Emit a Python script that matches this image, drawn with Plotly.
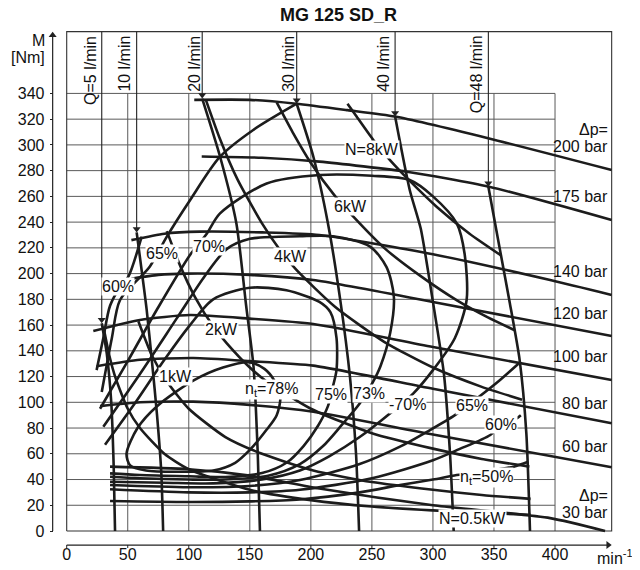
import plotly.graph_objects as go

FONT = "Liberation Sans, Arial, Helvetica, sans-serif"
INK = "#1c1c1c"

# ---------------- axes / frame ----------------
X_TICKS = [0, 50, 100, 150, 200, 250, 300, 350, 400]
Y_TICKS = [0, 20, 40, 60, 80, 100, 120, 140, 160, 180, 200, 220, 240, 260, 280, 300, 320, 340]
FRAME_N = 446.4      # right border of the diagram frame [min^-1]
FRAME_M = 388        # top border of the diagram frame [Nm]
Y_AXIS_AT = -11.5    # speed value where the separate M axis is drawn
X_AXIS_AT = -10.9    # torque value where the separate n axis is drawn

# ---------------- pressure lines  Δp ----------------
P200_N = [104.5, 150, 188, 230, 269, 346, 446.4]
P200_M = [335, 335, 332, 327, 322, 305, 280.5]
P175_N = [110.6, 160, 207, 280, 346, 446.4]
P175_M = [291, 290, 287, 279, 267.5, 241.6]
P140_N = [53, 80, 109, 160, 207, 300, 396, 446.4]
P140_M = [226, 231, 232.6, 232, 230, 215, 195, 183.4]
P120_N = [53, 75, 98, 150, 202, 300, 446.4]
P120_M = [196, 199, 200, 199, 195, 178, 151.5]
P100_N = [21.8, 60, 101, 150, 202, 300, 446.4]
P100_M = [155.4, 164, 167.8, 165, 160.8, 143, 117.3]
P80_N = [24.5, 60, 103.7, 150, 202, 300, 446.4]
P80_M = [128, 133, 134.4, 132, 128.5, 110.5, 83.7]
P60_N = [27.3, 60, 103.6, 150, 202, 300, 446.4]
P60_M = [97, 100, 100.5, 98, 92.7, 75, 49.5]
P30_N = [35.5, 100, 150, 207, 300, 396, 441]
P30_M = [50, 48, 43, 33, 20, 10, 0]

P_LABELS = ["Δp=", "200 bar", "175 bar", "140 bar", "120 bar", "100 bar", "80 bar", "60 bar", "Δp=", "30 bar"]
P_LABEL_M = [311.6, 298.4, 260, 201.5, 169, 135.4, 99.2, 65.5, 27.2, 14.6]

# ---------------- flow lines Q ----------------
Q5_N = [28.7, 32.8, 36.5, 38.5, 39.6]
Q5_M = [161.4, 138, 100, 50, 0]
Q10_N = [57.3, 65.5, 70, 74, 77.5, 79]
Q10_M = [232, 172, 130, 90, 45, 0]
Q20_N = [111, 125.6, 139, 147, 153, 156.5, 158.3]
Q20_M = [336, 291, 239, 175, 128, 60, 0]
Q30_N = [188.4, 202, 214, 224, 232, 237, 239.5]
Q30_M = [332, 291, 239, 180, 120, 60, 0]
Q40_N = [269, 281, 290, 300, 309, 314, 317]
Q40_M = [322, 265, 235, 178, 122, 60, 0]
Q48_N = [345.4, 355, 363, 371, 376.5, 379.5]
Q48_M = [267.5, 218, 177, 133, 76, 0]

Q_LABELS = ["Q=5 l/min", "10 l/min", "20 l/min", "30 l/min", "40 l/min", "Q=48 l/min"]
Q_LABEL_N = [19, 47.8, 104.5, 181.5, 259.3, 335.8]

# ---------------- power lines N ----------------
N8_N = [230, 236, 251, 265, 280, 303, 330, 356]
N8_M = [332, 324, 304, 288, 273, 252, 231, 214]
N6_N = [172, 185, 200, 220, 235, 260, 290, 320, 345, 367]
N6_M = [333, 310, 286, 260, 244, 220, 198, 179, 166, 156]
N4_N = [114, 125, 140, 160, 175, 188, 220, 260, 300, 340, 373]
N4_M = [335, 306, 273, 239, 218, 203, 174, 147, 127, 112, 102]
N2_N = [82, 93, 105, 120, 131, 150, 164, 200, 250, 300, 340, 379]
N2_M = [233, 206, 182, 159, 146, 127, 116, 95, 76, 64, 56, 50]
N1_N = [58.7, 70, 83, 100, 130, 160, 202, 250, 300, 340, 380]
N1_M = [163, 136, 115, 95, 73, 60, 47, 38, 32, 28, 25]
N05_N = [30, 35, 40, 50, 60, 80, 100, 150, 200, 250, 300, 340, 380]
N05_M = [159, 136, 119, 95, 80, 60, 48, 32, 24, 19, 16, 14, 12.6]

# ---------------- efficiency lines n_t ----------------
E78_N = [49, 58, 74, 104, 128, 150, 162, 170, 175, 172, 164, 150, 138, 120, 90, 65, 52, 49]
E78_M = [60, 80, 97, 117, 127, 131, 126, 117, 104, 90, 79, 63, 53, 47, 46, 47, 51, 60]
E75_N = [31.4, 55, 80, 101, 120, 150, 180, 207, 216, 221, 221, 218, 214, 206, 194, 180, 160, 130, 100, 60, 35.5]
E75_M = [67, 98, 133, 160, 180, 189, 187, 178, 170, 150, 125, 112, 97, 82, 66, 53, 45, 42, 42.5, 43.5, 44.8]
E73_N = [30, 60, 90, 113, 131, 150, 191, 218, 248.5, 262, 268, 265, 257, 251, 240, 225, 210, 191, 165, 130, 100, 60, 35.5]
E73_M = [81, 122, 165, 198, 219, 227, 229, 229, 221, 205, 182, 154, 128, 116, 99, 82, 66, 52, 43, 40, 40, 41, 42.2]
E70_N = [27.3, 50, 73.7, 101, 114.7, 125.6, 163.8, 207.5, 250, 281, 300, 319.5, 326, 327.6, 318, 300, 284, 265, 240, 215, 191, 160, 120, 80, 35.5]
E70_M = [95, 132, 171.7, 214.5, 231, 246.8, 270, 276.6, 276, 272.7, 260, 239, 215, 179.5, 150, 125, 107, 91.5, 73, 58, 47, 40, 37, 37.5, 38.3]
E65A_N = [28.7, 37, 43.7, 68, 82, 101, 125.6, 152.8, 188.4]
E65A_M = [108, 150, 179.5, 205.4, 228.7, 257, 290.8, 311.6, 332]
E65B_N = [370, 352, 336, 318, 295, 273, 240, 191, 150, 100, 35.5]
E65B_M = [130, 115, 103, 90, 77, 65.5, 52, 39.6, 35, 34, 35.7]
E60A_N = [24.5, 30, 35.5, 44, 50.5, 61.4]
E60A_M = [125, 150, 175, 190, 197.6, 228.7]
E60B_N = [372, 368.6, 355, 347, 320, 300, 250, 191, 150, 100, 35.5]
E60B_M = [90, 87.6, 82, 74.6, 63, 55, 41, 32, 30, 30, 32.4]
E50_N = [35.5, 100, 150, 191, 240, 273, 300, 319.5, 344, 366, 378]
E50_M = [23.3, 22.5, 23, 24.5, 30, 35.7, 40, 43.5, 46.5, 50, 53.8]

CURVE_LABELS = ["60%", "65%", "70%", "4kW", "2kW", "1kW", "n<sub>t</sub>=78%", "75%", "73%", "-70%",
                "65%", "60%", "n<sub>t</sub>=50%", "N=0.5kW", "6kW", "N=8kW"]
CURVE_LABEL_N = [42.3, 77.8, 116.7, 183.6, 127.2, 89.4, 167.9, 216.3, 247.8, 279.2,
                 332.4, 355.6, 344, 332.4, 232.7, 249.8]
CURVE_LABEL_M = [189.8, 215.8, 220.9, 213.1, 156.8, 120.2, 109.8, 106.1, 107.2, 98.5,
                 97.3, 83, 41.6, 9.9, 252, 296.7]

TITLE = "MG 125 SD_R"

# page layout: the html body adds an 8 px margin, the figure is sized to fit the window
PAGE_OFF = 8
FIG_W, FIG_H = 640 - PAGE_OFF, 570 - PAGE_OFF
PX_PER_N = 1.2208     # pixels per min^-1
PX_PER_M = 1.287      # pixels per Nm
N0_PX, M0_PX = 66.7, 531.0   # window pixel of n=0, M=0

# =====================================================
fig = go.Figure()


def add_line(xs, ys, width=2.6, color=INK, shape="spline", smoothing=0.8):
    fig.add_trace(go.Scatter(x=xs, y=ys, mode="lines",
                             line=dict(color=color, width=width, shape=shape, smoothing=smoothing),
                             hoverinfo="skip", showlegend=False))


def add_heads(xs, ys, symbol, size=7):
    fig.add_trace(go.Scatter(x=xs, y=ys, mode="markers",
                             marker=dict(symbol=symbol, size=size, color="#222222", line=dict(width=0)),
                             hoverinfo="skip", showlegend=False))


# grid
gx, gy = [], []
for v in Y_TICKS[1:]:
    gx += [X_TICKS[0], X_TICKS[-1], None]
    gy += [v, v, None]
for v in X_TICKS[1:]:
    gx += [v, v, None]
    gy += [Y_TICKS[0], Y_TICKS[-1], None]
add_line(gx, gy, width=1, color="#5a5a5a", shape="linear")

# frame
add_line([0, FRAME_N, FRAME_N, 0, 0], [0, 0, FRAME_M, FRAME_M, 0], width=1.1, color="#333333", shape="linear")

# pressure lines
for xs, ys in [(P200_N, P200_M), (P175_N, P175_M), (P140_N, P140_M), (P120_N, P120_M),
               (P100_N, P100_M), (P80_N, P80_M), (P60_N, P60_M), (P30_N, P30_M)]:
    add_line(xs, ys, smoothing=0.6)

# flow lines: thin lead-in from the frame top + thick part below the arrow
Q_CURVES = [(Q5_N, Q5_M), (Q10_N, Q10_M), (Q20_N, Q20_M), (Q30_N, Q30_M), (Q40_N, Q40_M), (Q48_N, Q48_M)]
head_dm = 3.5 / PX_PER_M
tx, ty, hx, hy = [], [], [], []
for xs, ys in Q_CURVES:
    tx += [xs[0], xs[0], None]
    ty += [FRAME_M, ys[0] + head_dm, None]
    hx.append(xs[0])
    hy.append(ys[0] + head_dm)
add_line(tx, ty, width=1.1, color="#222222", shape="linear")
add_heads(hx, hy, "triangle-down", 7)
for xs, ys in Q_CURVES:
    add_line(xs, ys, smoothing=0.6)

# power lines
for xs, ys in [(N8_N, N8_M), (N6_N, N6_M), (N4_N, N4_M), (N2_N, N2_M), (N1_N, N1_M), (N05_N, N05_M)]:
    add_line(xs, ys, smoothing=0.6)

# efficiency lines
for xs, ys in [(E78_N, E78_M), (E75_N, E75_M), (E73_N, E73_M), (E70_N, E70_M),
               (E65A_N, E65A_M), (E65B_N, E65B_M), (E60A_N, E60A_M), (E60B_N, E60B_M), (E50_N, E50_M)]:
    add_line(xs, ys, smoothing=0.8)

# separate axis lines with arrow heads
add_line([Y_AXIS_AT, Y_AXIS_AT], [Y_TICKS[0], FRAME_M - 4 / PX_PER_M], width=1.2, color="#222222", shape="linear")
add_heads([Y_AXIS_AT], [FRAME_M - 3.5 / PX_PER_M], "triangle-up", 7)
add_line([X_TICKS[0], FRAME_N - 4 / PX_PER_N], [X_AXIS_AT, X_AXIS_AT], width=1.2, color="#222222", shape="linear")
add_heads([FRAME_N - 3.5 / PX_PER_N], [X_AXIS_AT], "triangle-right", 7)
# x ticks (short, pointing down)
kx, ky = [], []
for v in X_TICKS:
    kx += [v, v, None]
    ky += [X_AXIS_AT, X_AXIS_AT - 3 / PX_PER_M, None]
add_line(kx, ky, width=1, color="#222222", shape="linear")

ann = []
# flow labels (rotated)
for t, xq in zip(Q_LABELS, Q_LABEL_N):
    ann.append(dict(x=xq, y=FRAME_M - 1.5, xref="x", yref="y", text=t, textangle=-90,
                    showarrow=False, xanchor="center", yanchor="top",
                    font=dict(family=FONT, size=16, color="#111111")))
# curve labels with white background
for t, xl, yl in zip(CURVE_LABELS, CURVE_LABEL_N, CURVE_LABEL_M):
    ann.append(dict(x=xl, y=yl, xref="x", yref="y", text=t, showarrow=False,
                    bgcolor="white", borderpad=0, xanchor="center", yanchor="middle",
                    font=dict(family=FONT, size=16, color="#111111")))
# pressure labels at the right
for t, yl in zip(P_LABELS, P_LABEL_M):
    ann.append(dict(x=FRAME_N - 1.2, y=yl, xref="x", yref="y", text=t, showarrow=False,
                    xanchor="right", yanchor="middle",
                    font=dict(family=FONT, size=16, color="#111111")))
# axis titles
ann.append(dict(x=-16.1, y=381.5, xref="x", yref="y", text="M", showarrow=False,
                xanchor="right", yanchor="middle", font=dict(family=FONT, size=16, color="#111111")))
ann.append(dict(x=-16.1, y=368, xref="x", yref="y", text="[Nm]", showarrow=False,
                xanchor="right", yanchor="middle", font=dict(family=FONT, size=16, color="#111111")))
ann.append(dict(x=432.7, y=-20.2, xref="x", yref="y", text="min<sup>-1</sup>", showarrow=False,
                xanchor="left", yanchor="middle", font=dict(family=FONT, size=16, color="#111111")))

# axis ranges so that the data land on the same window pixels as the reference
x_lo = (PAGE_OFF - N0_PX) / PX_PER_N
x_hi = (PAGE_OFF + FIG_W - N0_PX) / PX_PER_N
y_hi = (M0_PX - PAGE_OFF) / PX_PER_M
y_lo = (M0_PX - PAGE_OFF - FIG_H) / PX_PER_M
yaxis_pos = (N0_PX + Y_AXIS_AT * PX_PER_N - PAGE_OFF) / FIG_W
# tick-label axis for n sits 2 px above the drawn axis line (labels only)
xaxis_pos = (PAGE_OFF + FIG_H - (M0_PX - X_AXIS_AT * PX_PER_M - 2)) / FIG_H

fig.update_layout(
    width=FIG_W, height=FIG_H,
    margin=dict(l=0, r=0, t=0, b=0, pad=0),
    paper_bgcolor="white", plot_bgcolor="white",
    title=dict(text="<b>" + TITLE + "</b>", x=(338.5 - PAGE_OFF) / FIG_W, xanchor="center",
               y=1 - (15 - PAGE_OFF) / FIG_H, yanchor="middle", yref="container",
               font=dict(family=FONT, size=18, color="#111111")),
    xaxis=dict(range=[x_lo, x_hi], domain=[0, 1], anchor="free", position=xaxis_pos,
               showgrid=False, zeroline=False, showline=False, ticks="",
               tickvals=X_TICKS, automargin=False,
               tickfont=dict(family=FONT, size=16, color="#111111"), fixedrange=True),
    yaxis=dict(range=[y_lo, y_hi], domain=[0, 1], anchor="free", position=yaxis_pos,
               showgrid=False, zeroline=False, showline=False, ticks="outside", ticklen=3,
               ticklabelstandoff=2,
               tickwidth=1, tickcolor="#222222", tickvals=Y_TICKS, automargin=False,
               tickfont=dict(family=FONT, size=16, color="#111111"), fixedrange=True),
    annotations=ann,
    showlegend=False,
)

fig.write_html("out.html")
